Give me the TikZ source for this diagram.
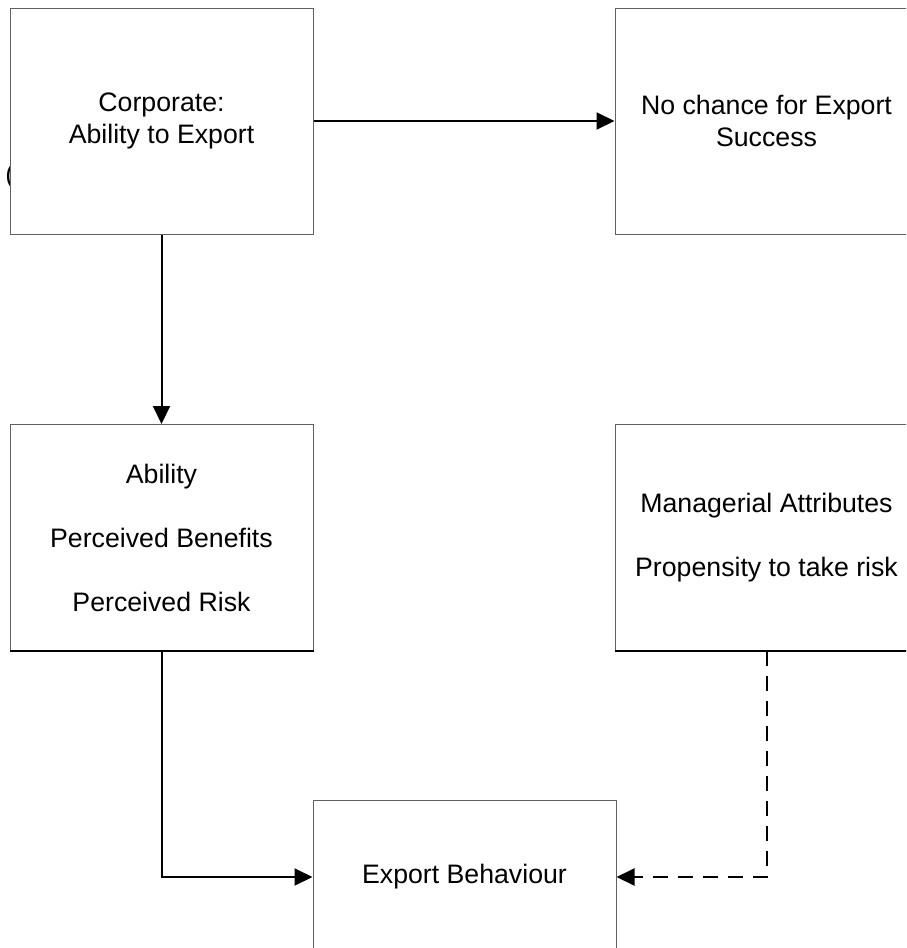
\documentclass[tikz,border=0pt]{standalone}
\usepackage{fontspec}
\setmainfont{Liberation Sans}
\usetikzlibrary{arrows.meta}

\begin{document}
\begin{tikzpicture}[x=1pt,y=-1pt,
  box/.style={draw=black!62, line width=1pt, fill=white, inner sep=0pt,
    minimum width=303pt, minimum height=226pt, align=center,
    font=\fontsize{26.7}{32}\selectfont},
  flow/.style={line width=2pt, -{Triangle[length=18pt,width=17pt]}},
  flowdash/.style={flow, dash pattern=on 15pt off 10pt},
  edgebottom/.style={line width=1.6pt, black}
]
\useasboundingbox (0,0) rectangle (906,948);
\clip (0,0) rectangle (906,948);
\fill[white] (0,0) rectangle (906,948);

% stray bracket partly hidden behind the first box
\node[inner sep=0pt, font=\fontsize{26.7}{32}\selectfont] (brk) at (9.8,177) {(};

% boxes
\node[box] (corp) at (161.5,121) {Corporate:\\Ability to Export};
\node[box] (nochance) at (766.5,121) {No chance for Export\\Success};
\node[box] (abil) at (161.5,537.5) {Ability\\[32pt]Perceived Benefits\\[32pt]Perceived Risk};
\node[box] (mgr) at (766.5,537.5) {Managerial Attributes\\[32pt]Propensity to take risk};
\node[box, minimum height=154pt] (behav) at (464.5,877) {Export Behaviour};

% darker lower edges
\draw[edgebottom] (abil.south west) -- (abil.south east);
\draw[edgebottom] (mgr.south west) -- (mgr.south east);

% connectors
\draw[flow] (corp.east) -- (nochance.west);
\draw[flow] (corp.south) -- (abil.north);
\draw[flow] (abil.south) |- (behav.west);
\draw[flowdash] (mgr.south) |- (behav.east);
\end{tikzpicture}
\end{document}
